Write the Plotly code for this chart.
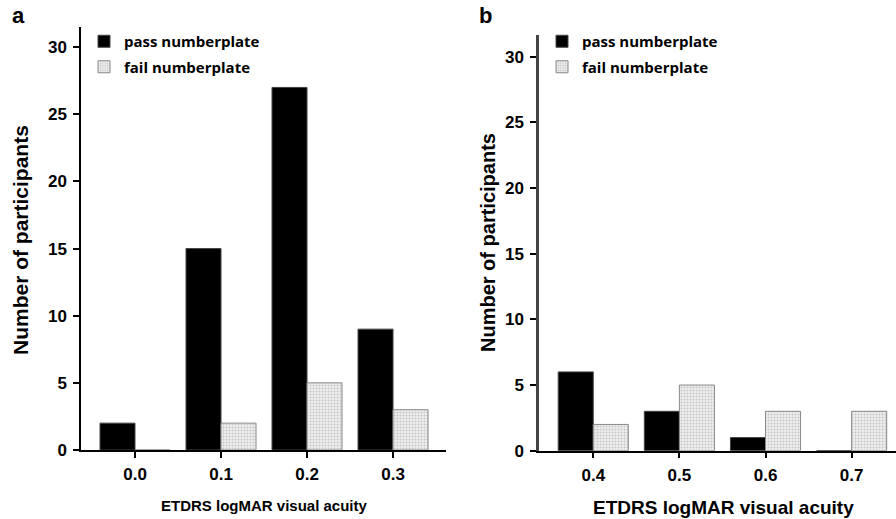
import plotly.graph_objects as go

# ---- data ----
cats_a = ["0.0", "0.1", "0.2", "0.3"]
pass_a = [2, 15, 27, 9]
fail_a = [0, 2, 5, 3]

cats_b = ["0.4", "0.5", "0.6", "0.7"]
pass_b = [6, 3, 1, 0]
fail_b = [2, 5, 3, 3]

y_ticks = [0, 5, 10, 15, 20, 25, 30]
series_names = ["pass numberplate", "fail numberplate"]
x_title = "ETDRS logMAR visual acuity"
y_title = "Number of participants"

W, H = 896, 519
def px(x):
    return x / W
def py(y):
    return 1 - y / H

FONT = "Liberation Sans, Arial, sans-serif"

pass_style = dict(color="black", line=dict(color="#444", width=1))
fail_style = dict(color="#e6e6e6",
                  pattern=dict(shape=".", fgcolor="#999999", bgcolor="#f0f0f0",
                               size=3, solidity=0.4),
                  line=dict(color="#888", width=1))

fig = go.Figure()
fig.add_trace(go.Bar(x=cats_a, y=pass_a, name=series_names[0], marker=pass_style,
                     xaxis="x", yaxis="y", legend="legend", legendgroup="p"))
fig.add_trace(go.Bar(x=cats_a, y=fail_a, name=series_names[1], marker=fail_style,
                     xaxis="x", yaxis="y", legend="legend", legendgroup="f"))
fig.add_trace(go.Bar(x=cats_b, y=pass_b, name=series_names[0], marker=pass_style,
                     xaxis="x2", yaxis="y2", legend="legend2", legendgroup="p2"))
fig.add_trace(go.Bar(x=cats_b, y=fail_b, name=series_names[1], marker=fail_style,
                     xaxis="x2", yaxis="y2", legend="legend2", legendgroup="f2"))

tickfont_y = dict(family=FONT, size=17, color="black", weight="bold")
tickfont_x = dict(family=FONT, size=17, color="black", weight="bold")

common_x = dict(type="category", showgrid=False, zeroline=False, showline=True,
                linecolor="black", linewidth=1.5, ticks="outside", ticklen=6,
                tickcolor="black", tickwidth=1.5, tickfont=tickfont_x,
                ticklabelstandoff=2, fixedrange=True, automargin=False)
common_y = dict(showgrid=False, zeroline=False, showline=True, linewidth=1.5,
                ticks="outside", ticklen=6, tickwidth=1.5, tickcolor="black",
                tickfont=tickfont_y, tickvals=y_ticks, fixedrange=True,
                ticklabelstandoff=3, automargin=False)

legend_common = dict(font=dict(family="Open Sans, sans-serif", size=15, color="black",
                               weight="bold"),
                     bgcolor="rgba(0,0,0,0)", xanchor="left", yanchor="top",
                     traceorder="grouped", tracegroupgap=3, itemclick=False)

def ann(text, x, y, size, angle=0):
    return dict(text=text, x=px(x), y=py(y), xref="paper", yref="paper",
                xanchor="center", yanchor="middle", showarrow=False,
                textangle=angle,
                font=dict(family=FONT, size=size, color="black", weight="bold"))

fig.update_layout(
    width=W, height=H, autosize=False,
    margin=dict(l=0, r=0, t=0, b=0, pad=0, autoexpand=False),
    paper_bgcolor="white", plot_bgcolor="white",
    barmode="group", bargap=0.186, bargroupgap=0,
    xaxis=dict(common_x, domain=[px(81), px(446)], range=[-0.628, 3.616],
               anchor="y"),
    yaxis=dict(common_y, domain=[py(450), py(27)], range=[0, 31.5],
               linecolor="black", anchor="x"),
    xaxis2=dict(common_x, domain=[px(539), 1.0], range=[-0.63, 3.515],
                anchor="y2"),
    yaxis2=dict(common_y, domain=[py(450.7), py(35)], range=[0, 31.66],
                linecolor="#444", linewidth=2.5, anchor="x2"),
    legend=dict(legend_common, x=px(84), y=py(25)),
    legend2=dict(legend_common, x=px(542), y=py(25)),
    showlegend=True,
    annotations=[
        ann("a", 18, 16, 22),
        ann("b", 485, 16, 22),
        ann(x_title, 264, 505, 15),
        ann(x_title, 723, 507, 19),
        ann(y_title, 20, 240, 21, -90),
        ann(y_title, 488, 242, 20, -90),
    ],
)

fig.write_html("out.html", config={"displayModeBar": False},
               post_script="document.body.style.margin='0';document.body.style.overflow='hidden';")
